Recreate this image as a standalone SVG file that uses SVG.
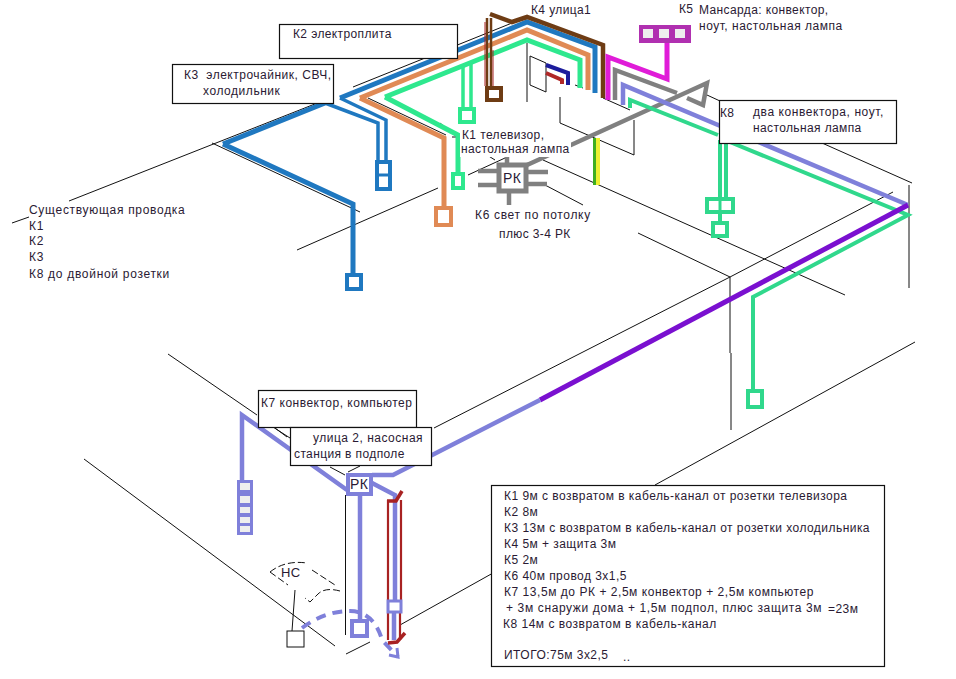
<svg xmlns="http://www.w3.org/2000/svg" width="956" height="679" viewBox="0 0 956 679">
<style>
text{font-family:"Liberation Sans",Arial,sans-serif;font-size:12px;fill:#2a1a33;letter-spacing:.38px;white-space:pre}
#summary text{letter-spacing:.46px}
#existing text{letter-spacing:.7px}
.thin{fill:none;stroke:#111;stroke-width:1}
.box{fill:#fff;stroke:#111;stroke-width:1.2}
.c{fill:none;stroke-linejoin:miter}
.blue{stroke:#1f78c0;stroke-width:5}
.bl2{stroke:#1f78c0;stroke-width:3.5}
.org{stroke:#e08a55;stroke-width:5}
.grn{stroke:#2ee88e;stroke-width:5}
.grn3{stroke:#2ee88e;stroke-width:3.5}
.g8{stroke:#30d88c;stroke-width:4}
.brn{stroke:#6e3c14;stroke-width:4.5}
.mag{stroke:#e01cd8;stroke-width:5}
.gry{stroke:#808080;stroke-width:4.5}
.lav{stroke:#7f80da;stroke-width:4.5}
.red{stroke:#a82222;stroke-width:2.2}
.sock{fill:#fff;stroke-width:4}
</style>
<rect width="956" height="679" fill="#fff"/>
<g id="connectors">
<g class="thin">
<path d="M69 201L325 100M353 87L527 17M12 223L29 217"/>
<path d="M212 143L360 212M297 250L438 188M468 175L505 158"/>
<path d="M368 98L446 135M452 137L457 137M440 123L457 137M487 155L495 160"/>
<path d="M543 160L845 295M545 185L583 205M638 233L730 277M730 277V353M731 353V430"/>
<path d="M434 428L730 277L893 192M655 485L915 342M909 185V288"/>
<path d="M707 95L720 101M822 143L912 183M575 85L583 88M603 98L630 110"/>
<path d="M527 43V102M530 56L546 63V92L530 85ZM560 97V123L634 155V120"/>
<path d="M168 354L257 415M84 459L335 646M273 427L290 438M275 428L287 437M330 467L345 475M348 472L360 466"/>
<path d="M345.500 495V635M346 654L370 642M400 625L493 573"/>
</g>
<path class="c blue" d="M223 144L325 103M223 144L353 204V274"/>
<path class="c blue" d="M340 98L527 22L595 47V93"/>
<path class="c bl2" d="M325 103L378 123V160M340 98L386 120V160"/>
<path class="c org" d="M360 98L527 30L588 55V90M360 98L444 138V206"/>
<path class="c grn" d="M385 97L527 40L580 60V88M385 97L458 135V172"/>
<path class="c grn3" d="M463 67V107M471 62V107"/>
<path class="c brn" d="M490 14L512 22L527 17L603 45V98"/>
<path class="c brn" d="M487 18V86M491 18V86" style="stroke-width:2.500"/>
<path class="c red" d="M485 22V86M493 50V86" style="stroke-width:1"/>
<path class="c" d="M546 65L568 73V85" style="stroke:#1c1c9c;stroke-width:4"/>
<path class="c" d="M546 73L562 80V84" style="stroke:#b02828;stroke-width:4"/>
<path class="c mag" d="M667 43V79L608 57V100"/>
<path class="c gry" d="M615 100V70L677 93M687 98L703 105L707 83L527 165"/>
<path class="c lav" d="M623 105V85L908 205"/>
<path class="c g8" d="M630 108V100L718 135M725 140L908 215L753 297V392M720 140V222M726 140V198"/>
<path class="c" d="M908 205L540 400" style="stroke:#7a10d0;stroke-width:5"/>
<path class="c lav" d="M540 400L393 475H372M372 483L395 495V600M394 613V640M360 495V620M242 480V415L347 490"/>
<path class="c" d="M302 628Q325 611 350 611C368 611 378 625 382 640L398 657" style="stroke:#7f80da;stroke-width:4;stroke-dasharray:10 7"/>
<path class="c" d="M389 655L398 657L397 648" style="stroke:#7f80da;stroke-width:3"/>
<path class="c red" d="M388 500V600M401 500V600M388 613V640M400 613V640"/>
<path class="c" d="M387 501H396L402 491M388 643L397 642L405 633" style="stroke:#a82222;stroke-width:3.500"/>
<path class="c gry" d="M478 171H497M478 185H497M527 172H548M527 184H547M507 155V163M509 192V205"/>
<path d="M593 138H596V185H593Z" fill="#3fae20"/>
<path d="M596 138H600V185H596Z" fill="#eef030"/>
</g>
<g id="sockets">
<g id="sock-k3a"><rect class="sock" x="377" y="162" width="13" height="27" stroke="#1f78c0"/><path d="M377 175H390" stroke="#1f78c0" stroke-width="3"/></g>
<rect id="sock-k3b" class="sock" x="347" y="275" width="14" height="14" stroke="#1f78c0"/>
<rect id="sock-k2" class="sock" x="436" y="208" width="15" height="17" stroke="#e08a55"/>
<rect id="sock-k1a" class="sock" x="453" y="174" width="10" height="14" stroke="#2ee88e"/>
<rect id="sock-k1b" class="sock" x="460" y="109" width="14" height="13" stroke="#2ee88e"/>
<rect id="sock-k4" class="sock" x="487" y="88" width="14" height="12" stroke="#6e3c14"/>
<g id="sock-k5"><rect x="639" y="25" width="52" height="18" fill="#b030b0"/><rect x="643" y="29" width="10" height="9" fill="#eee"/><rect x="659" y="29" width="10" height="9" fill="#eee"/><rect x="675" y="29" width="10" height="9" fill="#eee"/></g>
<g id="sock-k8a"><rect class="sock" x="707" y="199" width="26" height="13" stroke="#30d88c"/><path d="M720 199V212" stroke="#30d88c" stroke-width="3"/></g>
<rect id="sock-k8b" class="sock" x="713" y="223" width="14" height="13" stroke="#30d88c"/>
<rect id="sock-k8c" class="sock" x="748" y="391" width="14" height="16" stroke="#30d88c"/>
<g id="sock-k7a"><rect x="237" y="480" width="16" height="55" fill="#7f80da"/><rect x="240" y="483" width="10" height="7" fill="#eee"/><rect x="240" y="496" width="10" height="7" fill="#eee"/><rect x="240" y="507" width="10" height="6" fill="#eee"/><rect x="240" y="517" width="10" height="6" fill="#eee"/><rect x="240" y="526" width="10" height="6" fill="#eee"/></g>
<rect id="sock-k7b" class="sock" x="352" y="621" width="15" height="15" stroke="#7f80da"/>
<rect id="sock-k7c" x="388" y="601" width="13" height="11" fill="#fff" stroke="#7f80da" stroke-width="3"/>
</g>
<g id="rk1"><rect x="499" y="165" width="27" height="26" fill="#fff" stroke="#808080" stroke-width="5"/><text x="503" y="183" style="font-size:14px">РК</text></g>
<g id="rk2"><rect x="348" y="475" width="23" height="19" fill="#fff" stroke="#7f80da" stroke-width="4"/><text x="350" y="489" style="font-size:14px">РК</text></g>
<g id="ns"><path class="thin" d="M270 572L288 585M270 572Q285 560 307 563M312 570L335 585M340 591Q325 587 318 594L310 602L305 598" stroke-dasharray="7 3"/><path class="thin" d="M295 590L292 631"/><rect x="287" y="631" width="17" height="16" fill="#fff" stroke="#111"/><text x="281" y="577" style="font-size:13px">НС</text></g>
<g id="k2"><rect class="box" x="279.500" y="24.500" width="178" height="34"/><text x="293" y="38">К2 электроплита</text></g>
<g id="k3"><rect class="box" x="172.500" y="64.500" width="161" height="39"/><text x="184" y="79" style="letter-spacing:.5px">К3  электрочайник, СВЧ,</text><text x="203" y="95" style="letter-spacing:.55px">холодильник</text></g>
<g id="k4"><text x="531" y="14">К4 улица1</text></g>
<g id="k5"><text x="679" y="13">К5</text><text x="699" y="14">Мансарда: конвектор,</text><text x="699" y="30" style="letter-spacing:.5px">ноут, настольная лампа</text></g>
<g id="k8"><rect class="box" x="719.500" y="100.500" width="177" height="43"/><text x="720" y="117">К8</text><text x="753" y="116" style="letter-spacing:.57px">два конвектора, ноут,</text><text x="753" y="132">настольная лампа</text></g>
<g id="k1"><rect x="460" y="128" width="111" height="29" fill="#fff"/><text x="462" y="139">К1 телевизор,</text><text x="461" y="153">настольная лампа</text></g>
<g id="k6"><text x="475" y="219" style="letter-spacing:.66px">К6 свет по потолку</text><text x="499" y="238">плюс 3-4 РК</text></g>
<g id="existing"><text x="29" y="214">Существующая проводка</text><text x="29" y="230">К1</text><text x="29" y="245">К2</text><text x="29" y="261">К3</text><text x="29" y="278">К8 до двойной розетки</text></g>
<g id="k7"><rect class="box" x="258.500" y="390.500" width="158" height="37"/><text x="261" y="407" style="letter-spacing:.5px">К7 конвектор, компьютер</text></g>
<g id="street2"><rect class="box" x="290.500" y="427.500" width="141" height="38"/><text x="313" y="442" style="letter-spacing:.5px">улица 2, насосная</text><text x="294" y="458">станция в подполе</text></g>
<g id="summary"><rect class="box" x="491.500" y="485.500" width="393" height="181"/>
<text x="504" y="500">К1 9м с возвратом в кабель-канал от розетки телевизора</text>
<text x="504" y="516">К2 8м</text>
<text x="504" y="532">К3 13м с возвратом в кабель-канал от розетки холодильника</text>
<text x="504" y="548">К4 5м + защита 3м</text>
<text x="504" y="564">К5 2м</text>
<text x="504" y="580">К6 40м провод 3х1,5</text>
<text x="504" y="596" style="letter-spacing:.54px">К7 13,5м до РК + 2,5м конвектор + 2,5м компьютер</text>
<text x="506" y="612" style="letter-spacing:.63px">+ 3м снаружи дома + 1,5м подпол, плюс защита 3м</text>
<text x="828" y="613">=23м</text>
<text x="503" y="628" style="letter-spacing:.5px">К8 14м с возвратом в кабель-канал</text>
<text x="504" y="659">ИТОГО:75м 3х2,5</text>
<text x="623" y="661">..</text></g>
</svg>
